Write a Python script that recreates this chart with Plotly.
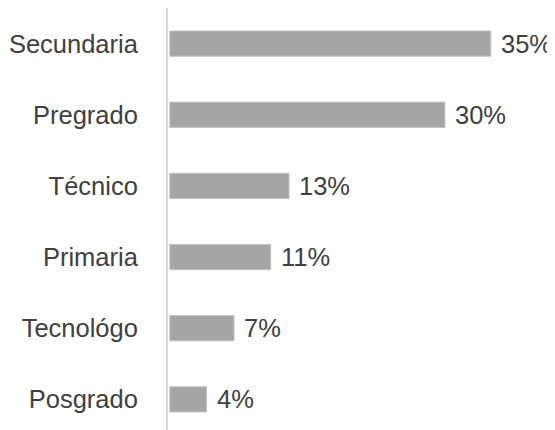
import plotly.graph_objects as go

categories = ["Secundaria", "Pregrado", "Técnico", "Primaria", "Tecnológo", "Posgrado"]
values = [35, 30, 13, 11, 7, 4]
labels = ["35%", "30%", "13%", "11%", "7%", "4%"]

FONT = "Liberation Sans, Arial, sans-serif"
SIZE = 25.5
TXT = "#404040"

fig = go.Figure(go.Bar(
    x=values,
    y=categories,
    orientation="h",
    width=0.355,
    marker=dict(color="#a5a5a5", line=dict(color="#c4c4c4", width=1)),
    hoverinfo="skip",
))

for v, c, t in zip(values, categories, labels):
    fig.add_annotation(
        x=v, y=c, text=t, showarrow=False,
        xanchor="left", yanchor="middle", xshift=8,
        font=dict(family=FONT, size=SIZE, color=TXT),
    )

# page body has an 8px default margin, so the figure is sized to fit the window
fig.update_layout(
    width=547, height=422,
    margin=dict(l=160, r=0, t=0, b=0),
    plot_bgcolor="white", paper_bgcolor="white",
    showlegend=False,
    font=dict(family=FONT, size=SIZE, color=TXT),
)
fig.update_xaxes(range=[-0.2, 42], visible=False, showgrid=False, zeroline=False)
fig.update_yaxes(
    categoryorder="array", categoryarray=categories,
    range=[5.43, -0.5],
    automargin=False,
    showline=True, linecolor="#d9d9d9", linewidth=2,
    showgrid=False, zeroline=False, ticks="",
    ticklabelstandoff=23,
    tickfont=dict(family=FONT, size=SIZE, color=TXT),
)

fig.write_html("out.html")
